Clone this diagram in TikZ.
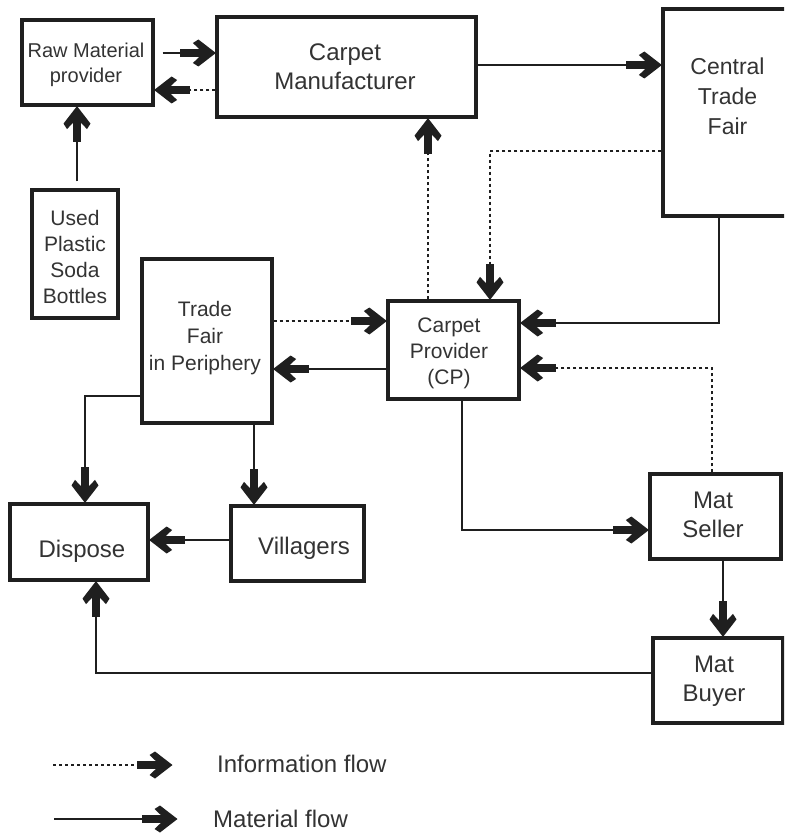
\documentclass[tikz,border=0pt]{standalone}
\usepackage{fontspec}
\setmainfont{Liberation Sans}
\usetikzlibrary{arrows.meta}

\pgfdeclarearrow{
  name = Chev,
  setup code = {
    \pgfarrowssettipend{0pt}
    \pgfarrowssetlineend{-20pt}
    \pgfarrowssetbackend{-35pt}
    \pgfarrowssetvisualbackend{-35pt}
    \pgfarrowshullpoint{0pt}{0pt}
    \pgfarrowsupperhullpoint{-17pt}{13.5pt}
    \pgfarrowsupperhullpoint{-35pt}{4pt}
  },
  drawing code = {
    \pgfpathmoveto{\pgfpoint{0.5pt}{0pt}}
    \pgfpathlineto{\pgfpoint{-17pt}{13.5pt}}
    \pgfpathlineto{\pgfpoint{-22.5pt}{10pt}}
    \pgfpathlineto{\pgfpoint{-12pt}{0pt}}
    \pgfpathlineto{\pgfpoint{-22.5pt}{-10pt}}
    \pgfpathlineto{\pgfpoint{-17pt}{-13.5pt}}
    \pgfpathclose
    \pgfusepathqfill
    \pgfpathrectanglecorners{\pgfpoint{-35pt}{-4pt}}{\pgfpoint{-8pt}{4pt}}
    \pgfusepathqfill
  }
}

\tikzset{
  box/.style={draw=black!88, line width=3.2pt, rectangle, inner sep=0pt},
  txt/.style={align=center, inner sep=0pt, text=black!80},
  mat/.style={draw=black!88, line width=2.8pt, -{Chev}},
  info/.style={mat, dash pattern=on 3pt off 3pt},
}

\begin{document}
\begin{tikzpicture}[x=1pt, y=-1pt]
\useasboundingbox (0,0) rectangle (784,837);
\clip (0,0) rectangle (784,837);

% boxes
\node[box, minimum width=131pt, minimum height=85pt]  (rm)   at (87.5,62.5) {};
\node[box, minimum width=259pt, minimum height=100pt] (cm)   at (346.5,67) {};
\node[box, minimum width=128pt, minimum height=207pt] (ctf)  at (727,112.5) {};
\node[box, minimum width=86pt,  minimum height=128pt] (upsb) at (75,254) {};
\node[box, minimum width=130pt, minimum height=164pt] (tfp)  at (207,341) {};
\node[box, minimum width=131pt, minimum height=98pt]  (cp)   at (453.5,350) {};
\node[box, minimum width=138pt, minimum height=76pt]  (disp) at (79,542) {};
\node[box, minimum width=133pt, minimum height=75pt]  (vil)  at (297.5,543.5) {};
\node[box, minimum width=131pt, minimum height=85pt]  (ms)   at (715.5,516.5) {};
\node[box, minimum width=130pt, minimum height=85pt]  (mb)   at (718,680.5) {};

% texts
\node[txt, font=\fontsize{20}{25}\selectfont] (rmT) at (86,65) {Raw Material\\provider};
\node[txt, font=\fontsize{24}{29}\selectfont] (cmT) at (345,66.5) {Carpet\\Manufacturer};
\node[txt, font=\fontsize{23}{30}\selectfont] (ctfT) at (727.5,96) {Central\\Trade\\Fair};
\node[txt, font=\fontsize{21}{25.7}\selectfont] (upsbT) at (75,257) {Used\\Plastic\\Soda\\Bottles};
\node[txt, font=\fontsize{21}{27}\selectfont] (tfpT) at (205,338.5) {Trade\\Fair\\in Periphery};
\node[txt, font=\fontsize{21}{26}\selectfont] (cpT) at (449,353) {Carpet\\Provider\\(CP)};
\node[txt, font=\fontsize{24}{29}\selectfont] (dispT) at (82,551) {Dispose};
\node[txt, font=\fontsize{24}{29}\selectfont] (vilT) at (304,548) {Villagers};
\node[txt, font=\fontsize{24}{29}\selectfont] (msT) at (713,514.5) {Mat\\Seller};
\node[txt, font=\fontsize{24}{29}\selectfont] (mbT) at (714,681.5) {Mat\\Buyer};

% helper coordinates
\coordinate (c1)  at ([yshift=-38.5pt]ctf.west);
\coordinate (c2)  at ([xshift=36.5pt]cp.north);
\coordinate (c3)  at ([xshift=-25.5pt]cp.north);
\coordinate (c4)  at ([xshift=-8pt]ctf.south);
\coordinate (c5)  at ([yshift=27pt]cp.east);
\coordinate (c6)  at ([xshift=-3.5pt]ms.north);
\coordinate (c7)  at ([yshift=-18pt]cp.east);
\coordinate (c8)  at ([xshift=8.5pt]cp.south);
\coordinate (c9)  at ([yshift=-13.5pt]ms.west);
\coordinate (c10) at ([xshift=7.5pt]ms.south);
\coordinate (c11) at ([yshift=7.5pt]mb.west);
\coordinate (c12) at ([xshift=17pt]disp.south);
\coordinate (c13) at ([yshift=3.5pt]vil.west);
\coordinate (c14) at ([xshift=47pt]tfp.south);
\coordinate (c15) at ([yshift=-55pt]tfp.west);
\coordinate (c16) at ([xshift=6pt]disp.north);
\coordinate (c17) at ([yshift=-19pt]cp.west);
\coordinate (c18) at ([yshift=20pt]tfp.east);
\coordinate (c19) at ([xshift=8pt,yshift=9.5pt]rm.east);
\coordinate (c20) at ([yshift=-23pt]cm.west);
\coordinate (c21) at ([yshift=2pt]cm.east);
\coordinate (c22) at ([xshift=2pt,yshift=7pt]upsb.north);

% connectors
\draw[mat]  (c19) -- (c19 -| cm.west);
\draw[info] (c20) -- (c20 -| rm.east);
\draw[mat]  (c22) -- (c22 |- rm.south);
\draw[mat]  (c21) -- (c21 -| ctf.west);
\draw[info] (c1) -| (c2);
\draw[info] (c3) -- (c3 |- cm.south);
\draw[mat]  (c4) |- (c5);
\draw[info] (c6) |- (c7);
\draw[mat]  (c8) |- (c9);
\draw[mat]  (c10) -- (c10 |- mb.north);
\draw[mat]  (c11) -| (c12);
\draw[mat]  (c13) -- (c13 -| disp.east);
\draw[mat]  (c14) -- (c14 |- vil.north);
\draw[mat]  (c15) -| (c16);
\draw[mat]  (c17) -- (c17 -| tfp.east);
\draw[info] (c18) -- (c18 -| cp.west);

% legend
\coordinate (li1) at (53,765);
\coordinate (li2) at (172,765);
\coordinate (lm1) at (54,819);
\coordinate (lm2) at (177,819);
\draw[info] (li1) -- (li2);
\draw[mat]  (lm1) -- (lm2);
\node[txt, anchor=west, font=\fontsize{24}{29}\selectfont] (infoT) at (217,764) {Information flow};
\node[txt, anchor=west, font=\fontsize{24}{29}\selectfont] (matT) at (213,819) {Material flow};
\end{tikzpicture}
\end{document}
